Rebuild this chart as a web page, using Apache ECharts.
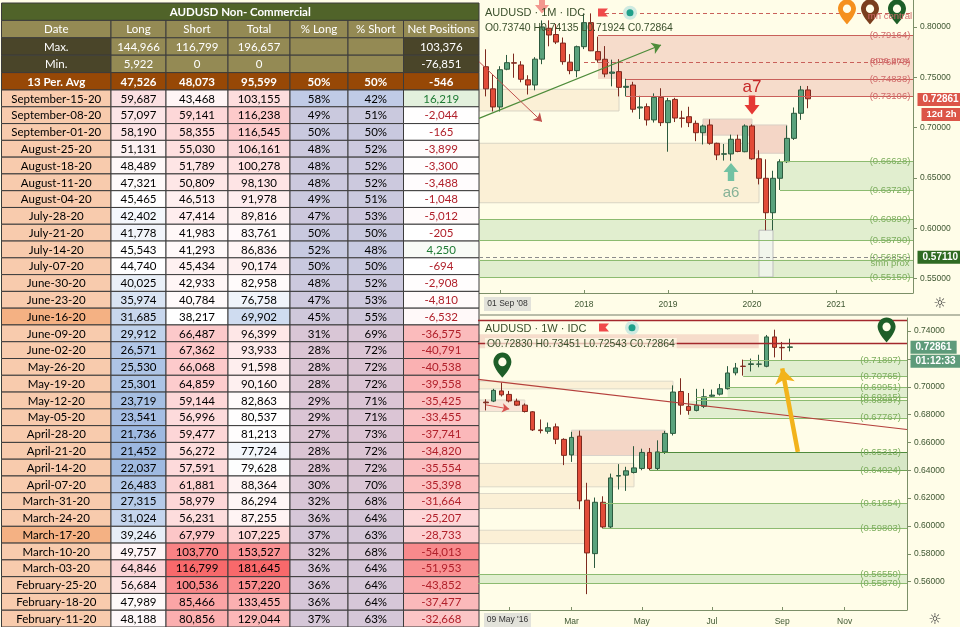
<!DOCTYPE html>
<html>
<head>
<meta charset="utf-8">
<title>AUDUSD Non-Commercial</title>
<script src="https://cdn.jsdelivr.net/npm/echarts@6.0.0/dist/echarts.min.js"></script>
<style>
    html, body { margin: 0; padding: 0; background: #fff; }
    #chart { width: 960px; height: 627px; }
</style>
</head>
<body>
<div id="chart"></div>
<script>
    // COT table (non-commercial positions)
    var headers = ['Date', 'Long', 'Short', 'Total', '% Long', '% Short', 'Net Positions'];
    var statLabels = ['Max.', 'Min.', '13 Per. Avg'];
    var statLong = [144966, 5922, 47526];
    var statShort = [116799, 0, 48073];
    var statTotal = [196657, 0, 95599];
    var statPctLong = [null, null, 50];
    var statPctShort = [null, null, 50];
    var statNet = [103376, -76851, -546];

    var dates = ['September-15-20', 'September-08-20', 'September-01-20', 'August-25-20', 'August-18-20',
        'August-11-20', 'August-04-20', 'July-28-20', 'July-21-20', 'July-14-20', 'July-07-20', 'June-30-20',
        'June-23-20', 'June-16-20', 'June-09-20', 'June-02-20', 'May-26-20', 'May-19-20', 'May-12-20',
        'May-05-20', 'April-28-20', 'April-21-20', 'April-14-20', 'April-07-20', 'March-31-20', 'March-24-20',
        'March-17-20', 'March-10-20', 'March-03-20', 'February-25-20', 'February-18-20', 'February-11-20'];
    var longs = [59687, 57097, 58190, 51131, 48489, 47321, 45465, 42402, 41778, 45543, 44740, 40025, 35974,
        31685, 29912, 26571, 25530, 25301, 23719, 23541, 21736, 21452, 22037, 26483, 27315, 31024, 39246,
        49757, 64846, 56684, 47989, 48188];
    var shorts = [43468, 59141, 58355, 55030, 51789, 50809, 46513, 47414, 41983, 41293, 45434, 42933, 40784,
        38217, 66487, 67362, 66068, 64859, 59144, 56996, 59477, 56272, 57591, 61881, 58979, 56231, 67979,
        103770, 116799, 100536, 85466, 80856];
    var totals = [103155, 116238, 116545, 106161, 100278, 98130, 91978, 89816, 83761, 86836, 90174, 82958,
        76758, 69902, 96399, 93933, 91598, 90160, 82863, 80537, 81213, 77724, 79628, 88364, 86294, 87255,
        107225, 153527, 181645, 157220, 133455, 129044];
    var pctLong = [58, 49, 50, 48, 48, 48, 49, 47, 50, 52, 50, 48, 47, 45, 31, 28, 28, 28, 29, 29, 27, 28,
        28, 30, 32, 36, 37, 32, 36, 36, 36, 37];
    var pctShort = [42, 51, 50, 52, 52, 52, 51, 53, 50, 48, 50, 52, 53, 55, 69, 72, 72, 72, 71, 71, 73, 72,
        72, 70, 68, 64, 63, 68, 64, 64, 64, 63];
    var nets = [16219, -2044, -165, -3899, -3300, -3488, -1048, -5012, -205, 4250, -694, -2908, -4810, -6532,
        -36575, -40791, -40538, -39558, -35425, -33455, -37741, -34820, -35554, -35398, -31664, -25207,
        -28733, -54013, -51953, -43852, -37477, -32668];
    var markedDates = ['June-16-20', 'March-17-20'];

    // AUDUSD monthly candles [open, high, low, close], from Nov 2016
    var monthFirst = [2016, 11];
    var monthOHLC = [
        [0.7605, 0.7778, 0.7310, 0.7385], [0.7385, 0.7525, 0.7160, 0.7205], [0.7205, 0.7610, 0.7160, 0.7575],
        [0.7580, 0.7722, 0.7570, 0.7645], [0.7645, 0.7735, 0.7495, 0.7640], [0.7622, 0.7660, 0.7450, 0.7480],
        [0.7475, 0.7520, 0.7329, 0.7423], [0.7423, 0.7700, 0.7370, 0.7680], [0.7680, 0.8065, 0.7630, 0.8000],
        [0.7987, 0.8066, 0.7808, 0.7920], [0.7925, 0.8030, 0.7830, 0.7850], [0.7840, 0.7895, 0.7625, 0.7655],
        [0.7650, 0.7730, 0.7530, 0.7566], [0.7566, 0.7815, 0.7500, 0.7804], [0.7804, 0.8135, 0.7780, 0.8043],
        [0.8043, 0.8135, 0.7760, 0.7763], [0.7755, 0.7904, 0.7645, 0.7672], [0.7679, 0.7810, 0.7500, 0.7533],
        [0.7540, 0.7675, 0.7410, 0.7552], [0.7556, 0.7680, 0.7310, 0.7400], [0.7400, 0.7485, 0.7310, 0.7410],
        [0.7423, 0.7455, 0.7150, 0.7182], [0.7195, 0.7316, 0.7085, 0.7205], [0.7208, 0.7240, 0.7020, 0.7076],
        [0.7076, 0.7340, 0.7050, 0.7301], [0.7301, 0.7391, 0.7015, 0.7049], [0.7049, 0.7295, 0.6760, 0.7267],
        [0.7280, 0.7296, 0.7055, 0.7095], [0.7095, 0.7167, 0.7000, 0.7092], [0.7108, 0.7207, 0.7005, 0.7049],
        [0.7042, 0.7070, 0.6865, 0.6949], [0.6949, 0.7030, 0.6832, 0.7016], [0.7026, 0.7082, 0.6830, 0.6844],
        [0.6844, 0.6850, 0.6677, 0.6728], [0.6735, 0.6837, 0.6672, 0.6740], [0.6738, 0.6930, 0.6670, 0.6884],
        [0.6884, 0.6929, 0.6755, 0.6762], [0.6760, 0.7032, 0.6755, 0.7016], [0.7016, 0.7032, 0.6680, 0.6690],
        [0.6690, 0.6775, 0.6435, 0.6496], [0.6496, 0.6685, 0.5980, 0.6154], [0.6154, 0.6571, 0.5980, 0.6496],
        [0.6496, 0.6685, 0.6380, 0.6661], [0.6661, 0.7020, 0.6648, 0.6893], [0.6893, 0.7200, 0.6877, 0.7142],
        [0.7142, 0.7414, 0.7077, 0.7374], [0.73740, 0.74135, 0.71924, 0.72864]
    ];

    // AUDUSD weekly candles [open, high, low, close], from week of 16 Dec 2019
    var weekFirst = [2019, 12, 16];
    var weekOHLC = [
        [0.6890, 0.6910, 0.6830, 0.6885], [0.6897, 0.6985, 0.6890, 0.6974], [0.6970, 0.7030, 0.6930, 0.6942],
        [0.6945, 0.6970, 0.6888, 0.6898], [0.6897, 0.6915, 0.6862, 0.6868], [0.6868, 0.6880, 0.6815, 0.6822],
        [0.6820, 0.6825, 0.6682, 0.6690], [0.6690, 0.6765, 0.6665, 0.6685], [0.6680, 0.6743, 0.6663, 0.6706],
        [0.6712, 0.6736, 0.6588, 0.6623], [0.6622, 0.6630, 0.6437, 0.6507], [0.6510, 0.6676, 0.6460, 0.6636],
        [0.6645, 0.6685, 0.6120, 0.6180], [0.6185, 0.6310, 0.5510, 0.5806], [0.5801, 0.6204, 0.5698, 0.6170],
        [0.6170, 0.6213, 0.5982, 0.5993], [0.5993, 0.6376, 0.5985, 0.6345], [0.6358, 0.6444, 0.6262, 0.6362],
        [0.6365, 0.6425, 0.6252, 0.6396], [0.6384, 0.6573, 0.6377, 0.6417], [0.6413, 0.6555, 0.6400, 0.6528],
        [0.6528, 0.6560, 0.6400, 0.6413], [0.6413, 0.6615, 0.6402, 0.6532], [0.6532, 0.6683, 0.6517, 0.6665],
        [0.6665, 0.7010, 0.6650, 0.6962], [0.6966, 0.7061, 0.6799, 0.6868], [0.6859, 0.6955, 0.6799, 0.6830],
        [0.6830, 0.6985, 0.6823, 0.6866], [0.6859, 0.6985, 0.6847, 0.6928], [0.6932, 0.6980, 0.6924, 0.6940],
        [0.6947, 0.7020, 0.6937, 0.6986], [0.6986, 0.7148, 0.6980, 0.7099], [0.7100, 0.7171, 0.7082, 0.7135],
        [0.7148, 0.7195, 0.7080, 0.7146], [0.7160, 0.7203, 0.7110, 0.7165], [0.7162, 0.7230, 0.7140, 0.7163],
        [0.7147, 0.7372, 0.7140, 0.7358], [0.7358, 0.7410, 0.7211, 0.7283], [0.7283, 0.7322, 0.7187, 0.7280],
        [0.72830, 0.73451, 0.72543, 0.72864]
    ];

    var monthTicks = [0.55, 0.60, 0.65, 0.70, 0.75, 0.80];
    var weekTicks = [0.56, 0.58, 0.60, 0.62, 0.64, 0.66, 0.68, 0.70, 0.72, 0.74];
    var monthNames = ['Jan', 'Feb', 'Mar', 'Apr', 'May', 'Jun', 'Jul', 'Aug', 'Sep', 'Oct', 'Nov', 'Dec'];

    // axis categories
    var pad2 = function(n) { return (n < 10 ? '0' : '') + n; };
    var mCats = [];
    for (var i = 0; i < 63; i++) {
        var mm = 9 + i; // Oct 2016 = index 0
        mCats.push((2016 + Math.floor(mm / 12)) + '-' + pad2(mm % 12 + 1));
    }
    var wCats = [];
    for (var i = 0; i < 56; i++) {
        var d = new Date(Date.UTC(2019, 11, 9) + i * 7 * 86400000); // 9 Dec 2019 = index 0
        wCats.push(d.getUTCFullYear() + '-' + pad2(d.getUTCMonth() + 1) + '-' + pad2(d.getUTCDate()));
    }
    var mStart = mCats.indexOf(monthFirst[0] + '-' + pad2(monthFirst[1]));
    var wStart = wCats.indexOf(weekFirst[0] + '-' + pad2(weekFirst[1]) + '-' + pad2(weekFirst[2]));

    var toCandle = function(cats, start, ohlc) {
        return cats.map(function(c, i) {
            var k = ohlc[i - start];
            return k ? [k[0], k[3], k[2], k[1]] : '-';
        });
    };
    var mData = toCandle(mCats, mStart, monthOHLC);
    var wData = toCandle(wCats, wStart, weekOHLC);

    // colours for the table (conditional formatting)
    function rgb(h) { return [parseInt(h.substr(1, 2), 16), parseInt(h.substr(3, 2), 16), parseInt(h.substr(5, 2), 16)]; }
    function mix(a, b, t) {
        t = Math.max(0, Math.min(1, t));
        var x = rgb(a), y = rgb(b);
        return 'rgb(' + [0, 1, 2].map(function(k) { return Math.round(x[k] + (y[k] - x[k]) * t); }).join(',') + ')';
    }
    var W = '#FFFFFF';
    var lMin = Math.min.apply(null, longs), lMax = Math.max.apply(null, longs);
    var sMin = Math.min.apply(null, shorts), sMax = Math.max.apply(null, shorts);
    var tMin = Math.min.apply(null, totals), tMax = Math.max.apply(null, totals);
    var longColor = function(v) {
        return v < 45000 ? mix(W, '#9DB8E0', (45000 - v) / (45000 - lMin)) : mix(W, '#FAD5D8', (v - 45000) / (lMax - 45000));
    };
    var shortColor = function(v) { return mix(W, '#F8696B', (v - sMin) / (sMax - sMin)); };
    var totalColor = function(v) {
        return v < 80000 ? mix(W, '#CFDCF0', (80000 - v) / (80000 - tMin)) : mix(W, '#F8696B', (v - 80000) / (tMax - 80000));
    };
    var pctColor = function(p) {
        return p < 45 ? mix('#CFC8DB', '#DCC5D4', (45 - p) / 18) : mix('#CFC8DB', '#C0CBE6', (p - 45) / 13);
    };
    var netColor = function(v) {
        return v < 0 ? mix(W, '#F7787A', Math.pow(-v / 60000, 1.4)) : mix(W, '#E3F0DD', v / 16219);
    };
    var fmt = function(v) { return v.toLocaleString('en-US'); };

    var colEdges = [1.5, 111, 166, 228, 290, 348, 403.5, 479];

    var headCells = [];
    headCells.push({ c0: 0, c1: 7, row: 0, text: 'AUDUSD Non- Commercial', bg: '#506329', fg: '#FFFFFF', bold: true });
    headers.forEach(function(h, i) {
        headCells.push({ c0: i, c1: i + 1, row: 1, text: h, bg: '#948A54', fg: '#FFFFFF' });
    });
    statLabels.forEach(function(lab, s) {
        var dark = s < 2 ? '#4A4529' : '#974806';
        var mid = s < 2 ? '#948A54' : '#974806';
        var texts = [lab, fmt(statLong[s]), fmt(statShort[s]), fmt(statTotal[s]),
            statPctLong[s] === null ? '' : statPctLong[s] + '%',
            statPctShort[s] === null ? '' : statPctShort[s] + '%', fmt(statNet[s])];
        texts.forEach(function(t, c) {
            headCells.push({ c0: c, c1: c + 1, row: 2 + s, text: t, bg: (c === 0 || c === 6) ? dark : mid, fg: '#FFFFFF', bold: s === 2 });
        });
    });

    var bodyCells = [];
    dates.forEach(function(dt, r) {
        var row = [
            [dt, markedDates.indexOf(dt) >= 0 ? '#F4B183' : '#F8CBAD', '#000'],
            [fmt(longs[r]), longColor(longs[r]), '#000'],
            [fmt(shorts[r]), shortColor(shorts[r]), '#000'],
            [fmt(totals[r]), totalColor(totals[r]), '#000'],
            [pctLong[r] + '%', pctColor(pctLong[r]), '#000'],
            [pctShort[r] + '%', pctColor(pctLong[r]), '#000'],
            [fmt(nets[r]), netColor(nets[r]), nets[r] < 0 ? '#B0202A' : '#1E7B34']
        ];
        row.forEach(function(cell, c) {
            bodyCells.push({ c0: c, c1: c + 1, row: r, text: cell[0], bg: cell[1], fg: cell[2] });
        });
    });

    function cellRenderer(cells) {
        return function(params, api) {
            var cell = cells[params.dataIndex];
            var a = api.coord([colEdges[cell.c0], cell.row]);
            var b = api.coord([colEdges[cell.c1], cell.row]);
            var h = api.size([0, 1])[1];
            return {
                type: 'group',
                children: [{
                    type: 'rect',
                    shape: { x: a[0], y: a[1] - h / 2, width: b[0] - a[0], height: h },
                    style: { fill: cell.bg, stroke: '#3C3C3C', lineWidth: 1 }
                }, {
                    type: 'text',
                    style: {
                        text: cell.text, x: (a[0] + b[0]) / 2, y: a[1] + 0.5, align: 'center', verticalAlign: 'middle',
                        fill: cell.fg, fontSize: 11.5, fontFamily: 'Lato', fontWeight: cell.bold ? 'bold' : 'normal'
                    }
                }]
            };
        };
    }

    // chart overlay helpers
    var RED = '#C9605A', GRN = '#8CBB70', REDTXT = '#D06A6A', GRNTXT = '#7DAE5E';
    var PINK = '#F6DCCB', BEIGE = '#FBF0D6', LGREEN = '#E1EECF';
    function zone(cats, i0, i1, p1, p2, color, border) {
        return [{ xAxis: cats[i0], yAxis: p1, itemStyle: { color: color, borderColor: border || 'transparent', borderWidth: border ? 1 : 0 } },
            { xAxis: cats[i1], yAxis: p2 }];
    }
    function seg(cats, i0, p0, i1, p1, color, width, type, arrow) {
        return [{ coord: [cats[i0], p0], symbol: 'none', lineStyle: { color: color, width: width || 1, type: type || 'solid' } },
            { coord: [cats[i1], p1], symbol: arrow ? 'arrow' : 'none', symbolSize: arrow || 0 }];
    }
    function txt(cats, i, p, text, color, size, dx) {
        return {
            coord: [cats[i], p], symbol: 'rect', symbolSize: 1, itemStyle: { color: 'rgba(0,0,0,0)' },
            label: { show: true, position: 'inside', formatter: text, color: color, fontSize: size || 9.5, fontFamily: 'Liberation Sans', offset: [dx || 0, 0] }
        };
    }
    function shape(cats, i, p, path, size, color, dx) {
        return { coord: [cats[i], p], symbol: path, symbolSize: size, symbolOffset: [dx || 0, 0], itemStyle: { color: color }, label: { show: false } };
    }
    // price tag sitting on the right price axis
    function priceTag(cats, p, text, bg, dist, size) {
        return {
            coord: [cats[cats.length - 1], p], symbol: 'rect', symbolSize: 1, itemStyle: { color: 'rgba(0,0,0,0)' },
            label: { show: true, position: 'right', distance: dist || 4, formatter: text, backgroundColor: bg, color: '#FFFFFF', fontSize: size || 10, fontWeight: 'bold', fontFamily: 'Liberation Sans', padding: [2, 5, 1, 5] }
        };
    }
    var ARROW_DOWN = 'path://M4,0L10,0L10,9L14,9L7,18L0,9L4,9Z';
    var ARROW_UP = 'path://M7,0L14,9L10,9L10,18L4,18L4,9L0,9Z';
    var PIN = 'path://M12,0C5.4,0,0,5.4,0,12C0,20,12,32,12,32C12,32,24,20,24,12C24,5.4,18.6,0,12,0ZM12,6.5A5.5,5.5,0,1,1,12,17.5A5.5,5.5,0,1,1,12,6.5Z';

    var mL = mCats.length - 1, wL = wCats.length - 1;

    var axisText = '#3D5530';
    var axisLineCol = '#7C8F68';

    var option = {
        animation: false,
        backgroundColor: '#FFFDE8',
        grid: [
            { left: 0, top: 3, width: 480, height: 87 },
            { left: 0, top: 90, width: 480, height: 537 },
            { left: 479, top: 0, width: 434, height: 293 },
            { left: 478, top: 318, width: 429, height: 292 }
        ],
        xAxis: [
            { gridIndex: 0, type: 'value', min: 0, max: 480, show: false },
            { gridIndex: 1, type: 'value', min: 0, max: 480, show: false },
            {
                gridIndex: 2, type: 'category', data: mCats, boundaryGap: false,
                axisLine: { lineStyle: { color: axisLineCol } },
                axisTick: { interval: function(i, v) { return v.slice(5) === '01'; }, length: 3, inside: true, lineStyle: { color: axisLineCol } },
                axisLabel: {
                    interval: function(i, v) { return v.slice(5) === '01'; },
                    formatter: function(v) { return v.slice(0, 4); },
                    color: axisText, fontSize: 8.5, fontFamily: 'Liberation Sans', margin: 7
                },
                splitLine: { show: false }
            },
            {
                gridIndex: 3, type: 'category', data: wCats, boundaryGap: false,
                axisLine: { lineStyle: { color: axisLineCol } },
                axisTick: { interval: function(i, v) { return +v.slice(8) <= 7 && (+v.slice(5, 7)) % 2 === 1; }, length: 3, inside: true, lineStyle: { color: axisLineCol } },
                axisLabel: {
                    interval: function(i, v) { return +v.slice(8) <= 7 && (+v.slice(5, 7)) % 2 === 1; },
                    formatter: function(v) { var m = +v.slice(5, 7); return m === 1 ? v.slice(0, 4) : monthNames[m - 1]; },
                    color: axisText, fontSize: 8.5, fontFamily: 'Liberation Sans', margin: 7
                },
                splitLine: { show: false }
            }
        ],
        yAxis: [
            { gridIndex: 0, type: 'category', data: ['0', '1', '2', '3', '4'], inverse: true, show: false },
            { gridIndex: 1, type: 'category', data: dates, inverse: true, show: false },
            {
                gridIndex: 2, type: 'value', position: 'right', min: 0.5356, max: 0.8268,
                axisLine: { show: true, lineStyle: { color: axisLineCol } },
                axisTick: { show: true, customValues: monthTicks, length: 4, lineStyle: { color: axisLineCol } },
                axisLabel: { customValues: monthTicks, formatter: function(v) { return v.toFixed(5); }, color: axisText, fontSize: 8.5, fontFamily: 'Liberation Sans', margin: 7 },
                splitLine: { show: false }
            },
            {
                gridIndex: 3, type: 'value', position: 'right', min: 0.5396, max: 0.7494,
                axisLine: { show: true, lineStyle: { color: axisLineCol } },
                axisTick: { show: true, customValues: weekTicks, length: 4, lineStyle: { color: axisLineCol } },
                axisLabel: { customValues: weekTicks, formatter: function(v) { return v.toFixed(5); }, color: axisText, fontSize: 8.5, fontFamily: 'Liberation Sans', margin: 7 },
                splitLine: { show: false }
            }
        ],
        series: [
            // table
            { type: 'custom', xAxisIndex: 0, yAxisIndex: 0, renderItem: cellRenderer(headCells), data: headCells.map(function(c) { return [colEdges[c.c0], c.row]; }), silent: true },
            { type: 'custom', xAxisIndex: 1, yAxisIndex: 1, renderItem: cellRenderer(bodyCells), data: bodyCells.map(function(c) { return [colEdges[c.c0], c.row]; }), silent: true },

            // monthly: zones
            {
                type: 'line', xAxisIndex: 2, yAxisIndex: 2, data: [], z: 1,
                markArea: {
                    silent: true,
                    data: [
                        zone(mCats, 0, 20, 0.7381, 0.7165, BEIGE, '#D8D4C4'),
                        zone(mCats, 0, 40, 0.6844, 0.6253, BEIGE, '#D8D4C4'),
                        zone(mCats, 17, mL, 0.79164, 0.74838, PINK),
                        zone(mCats, 21, mL, 0.74838, 0.73106, PINK),
                        zone(mCats, 32, 39, 0.7085, 0.6925, '#F4D6C6', '#D9CFC4'),
                        zone(mCats, 39, 44, 0.7026, 0.6745, '#F4D6C6', '#D9CFC4'),
                        zone(mCats, 43, mL, 0.66628, 0.63729, LGREEN),
                        zone(mCats, 0, mL, 0.60890, 0.58790, LGREEN),
                        zone(mCats, 0, mL, 0.56856, 0.55150, LGREEN),
                        zone(mCats, 40, 42, 0.5980, 0.5515, 'rgba(240,244,236,0.85)', '#BDBDBD')
                    ]
                }
            },
            // monthly: lines
            {
                type: 'line', xAxisIndex: 2, yAxisIndex: 2, data: [], z: 2,
                markLine: {
                    silent: true, symbol: 'none', label: { show: false },
                    data: [
                        seg(mCats, 18, 0.8136, mL, 0.8136, RED, 1, [4, 3]),
                        seg(mCats, 17, 0.79164, mL, 0.79164, RED, 1),
                        seg(mCats, 15, 0.76478, mL, 0.76478, RED, 1, [4, 3]),
                        seg(mCats, 21, 0.74838, mL, 0.74838, RED, 1),
                        seg(mCats, 21, 0.73106, mL, 0.73106, RED, 1),
                        seg(mCats, 43, 0.66628, mL, 0.66628, GRN, 1),
                        seg(mCats, 43, 0.63729, mL, 0.63729, GRN, 1),
                        seg(mCats, 0, 0.60890, mL, 0.60890, GRN, 1),
                        seg(mCats, 0, 0.58790, mL, 0.58790, GRN, 1),
                        seg(mCats, 0, 0.56856, mL, 0.56856, GRN, 1),
                        seg(mCats, 0, 0.55150, mL, 0.55150, GRN, 1),
                        seg(mCats, 0, 0.57110, mL, 0.57110, '#8C8C8C', 1, [4, 3]),
                        seg(mCats, 10, 0.8296, 54, 0.6877, '#C0504D', 1.2, 'solid', 9),
                        seg(mCats, 0, 0.7092, 26, 0.7821, '#4E8C3A', 1.2, 'solid', 9),
                        seg(mCats, 0, 0.7655, 9, 0.7059, '#C0504D', 1, 'solid', 8)
                    ]
                }
            },
            // monthly candles and annotations
            {
                type: 'candlestick', xAxisIndex: 2, yAxisIndex: 2, data: mData, barWidth: 5, z: 3,
                itemStyle: { color: '#5AA27C', color0: '#E24C39', borderColor: '#2C5A3E', borderColor0: '#7D2A1F', borderColorDoji: '#222', borderWidth: 1 },
                markPoint: {
                    silent: true,
                    data: [
                        txt(mCats, 59, 0.8110, 'mn central', REDTXT, 9.5, -2),
                        txt(mCats, 59, 0.79164, '(0.79164)', REDTXT, 9.5, -2),
                        txt(mCats, 59, 0.7672, 'ema prox', REDTXT, 9.5, -2),
                        txt(mCats, 59, 0.76478, '(0.76478)', REDTXT, 9.5, -2),
                        txt(mCats, 59, 0.74838, '(0.74838)', REDTXT, 9.5, -2),
                        txt(mCats, 59, 0.73106, '(0.73106)', REDTXT, 9.5, -2),
                        txt(mCats, 59, 0.66628, '(0.66628)', GRNTXT, 9.5, -2),
                        txt(mCats, 59, 0.63729, '(0.63729)', GRNTXT, 9.5, -2),
                        txt(mCats, 59, 0.60890, '(0.60890)', GRNTXT, 9.5, -2),
                        txt(mCats, 59, 0.58790, '(0.58790)', GRNTXT, 9.5, -2),
                        txt(mCats, 59, 0.57130, '(0.56856)', GRNTXT, 9.5, -2),
                        txt(mCats, 59, 0.56500, 'smn prox', GRNTXT, 9.5, -2),
                        txt(mCats, 59, 0.55150, '(0.55150)', GRNTXT, 9.5, -2),
                        txt(mCats, 39, 0.7399, 'a7', '#C62828', 17),
                        txt(mCats, 36, 0.6350, 'a6', '#86B297', 15),
                        shape(mCats, 39, 0.7225, ARROW_DOWN, [15, 19], '#E53935'),
                        shape(mCats, 36, 0.6559, ARROW_UP, [15, 18], '#72C2A3'),
                        shape(mCats, 9, 0.8219, ARROW_DOWN, [14, 17], '#F3978E'),
                        shape(mCats, 52, 0.8150, PIN, [18, 25], '#F5901E', 4),
                        shape(mCats, 56, 0.8150, PIN, [18, 25], '#7A3E1E', -1),
                        shape(mCats, 60, 0.8150, PIN, [18, 25], '#1E5E28', -2),
                        priceTag(mCats, 0.72800, '0.72861', '#DC5548', 4),
                        priceTag(mCats, 0.71300, '12d 2h', '#DC5548', 8, 9.5),
                        priceTag(mCats, 0.57110, '0.57110', '#2F6A22', 4)
                    ]
                }
            },

            // weekly: zones
            {
                type: 'line', xAxisIndex: 3, yAxisIndex: 3, data: [], z: 1,
                markArea: {
                    silent: true,
                    data: [
                        zone(wCats, 0, 36, 0.7377, 0.7276, PINK),
                        zone(wCats, 0, 25, 0.7040, 0.6985, BEIGE, '#DDD8C8'),
                        zone(wCats, 0, 6, 0.6905, 0.6822, '#F8E6D8', '#DDD8C8'),
                        zone(wCats, 12, 24, 0.6688, 0.6506, '#F4D6C6', '#D9D3CB'),
                        zone(wCats, 0, 20, 0.6449, 0.6281, BEIGE, '#DDD8C8'),
                        zone(wCats, 0, 13, 0.6233, 0.6125, BEIGE, '#DDD8C8'),
                        zone(wCats, 0, 14, 0.5969, 0.5873, BEIGE, '#DDD8C8'),
                        zone(wCats, 34, wL, 0.71897, 0.70765, LGREEN),
                        zone(wCats, 32, wL, 0.69951, 0.69215, LGREEN),
                        zone(wCats, 27, wL, 0.68997, 0.67767, LGREEN),
                        zone(wCats, 22, wL, 0.65313, 0.64024, '#D7E7C6'),
                        zone(wCats, 16, wL, 0.61654, 0.59803, LGREEN),
                        zone(wCats, 0, wL, 0.56550, 0.55870, LGREEN)
                    ]
                }
            },
            // weekly: lines
            {
                type: 'line', xAxisIndex: 3, yAxisIndex: 3, data: [], z: 2,
                markLine: {
                    silent: true, symbol: 'none', label: { show: false },
                    data: [
                        seg(wCats, 0, 0.7480, wL, 0.7480, '#A3282C', 1.3),
                        seg(wCats, 0, 0.73106, wL, 0.73106, '#A3282C', 1.3),
                        seg(wCats, 34, 0.71897, wL, 0.71897, GRN, 1),
                        seg(wCats, 34, 0.70765, wL, 0.70765, GRN, 1),
                        seg(wCats, 32, 0.69951, wL, 0.69951, GRN, 1),
                        seg(wCats, 28, 0.69215, wL, 0.69215, GRN, 1),
                        seg(wCats, 28, 0.68997, wL, 0.68997, GRN, 1),
                        seg(wCats, 27, 0.67767, wL, 0.67767, GRN, 1),
                        seg(wCats, 23, 0.65313, wL, 0.65313, '#4F8A3C', 1.2),
                        seg(wCats, 22, 0.64024, wL, 0.64024, '#6FA255', 1.2),
                        seg(wCats, 16, 0.61654, wL, 0.61654, GRN, 1),
                        seg(wCats, 16, 0.59803, wL, 0.59803, GRN, 1),
                        seg(wCats, 0, 0.56550, wL, 0.56550, GRN, 1),
                        seg(wCats, 0, 0.55870, wL, 0.55870, GRN, 1),
                        seg(wCats, 0, 0.7053, wL, 0.6693, '#B5403C', 1.1),
                        seg(wCats, 1, 0.6870, 4, 0.6840, '#D9534F', 1, 'solid', 7),
                        seg(wCats, 41, 0.6532, 39, 0.7132, '#F2B31C', 4.5, 'solid', 15)
                    ]
                }
            },
            // weekly candles and annotations
            {
                type: 'candlestick', xAxisIndex: 3, yAxisIndex: 3, data: wData, barWidth: 5, z: 3,
                itemStyle: { color: '#5AA27C', color0: '#E24C39', borderColor: '#2C5A3E', borderColor0: '#7D2A1F', borderColorDoji: '#222', borderWidth: 1 },
                markPoint: {
                    silent: true,
                    data: [
                        txt(wCats, 52, 0.71897, '(0.71897)', GRNTXT, 9.5, -3),
                        txt(wCats, 52, 0.70765, '(0.70765)', GRNTXT, 9.5, -3),
                        txt(wCats, 52, 0.69951, '(0.69951)', GRNTXT, 9.5, -3),
                        txt(wCats, 52, 0.69215, '(0.69215)', GRNTXT, 9.5, -3),
                        txt(wCats, 52, 0.68997, '(0.68997)', GRNTXT, 9.5, -3),
                        txt(wCats, 52, 0.67767, '(0.67767)', GRNTXT, 9.5, -3),
                        txt(wCats, 52, 0.65313, '(0.65313)', GRNTXT, 9.5, -3),
                        txt(wCats, 52, 0.64024, '(0.64024)', GRNTXT, 9.5, -3),
                        txt(wCats, 52, 0.61654, '(0.61654)', GRNTXT, 9.5, -3),
                        txt(wCats, 52, 0.59803, '(0.59803)', GRNTXT, 9.5, -3),
                        txt(wCats, 52, 0.56550, '(0.56550)', GRNTXT, 9.5, -3),
                        txt(wCats, 52, 0.55870, '(0.55870)', GRNTXT, 9.5, -3),
                        shape(wCats, 52, 0.7408, PIN, [18, 25], '#1E5E28', 3),
                        shape(wCats, 3, 0.7156, PIN, [18, 25], '#1E5E28', 1),
                        priceTag(wCats, 0.7283, '0.72861', '#5E9B7A', 3),
                        priceTag(wCats, 0.7184, '01:12:33', '#5E9B7A', 3)
                    ]
                }
            }
        ],
        graphic: [
            { type: 'line', z: 100, shape: { x1: 480, y1: 315, x2: 960, y2: 315 }, style: { stroke: '#B9BCA8', lineWidth: 2 }, silent: true },
            { type: 'text', z: 100, x: 485, y: 12.5, style: { text: 'AUDUSD · 1M · IDC', fill: '#3A4F2B', fontSize: 11, fontFamily: 'Liberation Sans', verticalAlign: 'middle' } },
            { type: 'text', z: 100, x: 485, y: 28, style: { text: 'O0.73740 H0.74135 L0.71924 C0.72864', fill: '#3A4F2B', fontSize: 10.4, fontFamily: 'Liberation Sans', verticalAlign: 'middle' } },
            { type: 'text', z: 100, x: 485, y: 329, style: { text: 'AUDUSD · 1W · IDC', fill: '#3A4F2B', fontSize: 11, fontFamily: 'Liberation Sans', verticalAlign: 'middle' } },
            { type: 'text', z: 100, x: 485, y: 344, style: { text: 'O0.72830 H0.73451 L0.72543 C0.72864', fill: '#3A4F2B', fontSize: 10.4, fontFamily: 'Liberation Sans', verticalAlign: 'middle', backgroundColor: 'rgba(255,253,232,0.7)', padding: [1, 2] } },
            { type: 'polygon', z: 100, shape: { points: [[598, 8.5], [608, 8.5], [604.5, 12.5], [608, 16.5], [598, 16.5]] }, style: { fill: '#F04A4A' } },
            { type: 'circle', z: 100, shape: { cx: 630, cy: 12.7, r: 7 }, style: { fill: '#CFEAE1' } },
            { type: 'circle', z: 101, shape: { cx: 630, cy: 12.7, r: 3.5 }, style: { fill: '#1FA08A' } },
            { type: 'polygon', z: 100, shape: { points: [[599, 323.5], [609, 323.5], [605.5, 327.5], [609, 331.5], [599, 331.5]] }, style: { fill: '#F04A4A' } },
            { type: 'circle', z: 100, shape: { cx: 632, cy: 327.7, r: 7 }, style: { fill: '#CFEAE1' } },
            { type: 'circle', z: 101, shape: { cx: 632, cy: 327.7, r: 3.5 }, style: { fill: '#1FA08A' } },
            { type: 'rect', z: 100, shape: { x: 484, y: 297, width: 47, height: 14 }, style: { fill: '#E2E2DA' } },
            { type: 'text', z: 101, x: 507.5, y: 304, style: { text: "01 Sep '08", fill: '#333', fontSize: 8.5, fontFamily: 'Liberation Sans', align: 'center', verticalAlign: 'middle' } },
            { type: 'rect', z: 100, shape: { x: 484, y: 613, width: 47, height: 14 }, style: { fill: '#E2E2DA' } },
            { type: 'text', z: 101, x: 507.5, y: 620, style: { text: "09 May '16", fill: '#333', fontSize: 8.5, fontFamily: 'Liberation Sans', align: 'center', verticalAlign: 'middle' } },
            { type: 'text', z: 100, x: 940, y: 304, style: { text: '☼', fill: '#333', fontSize: 15, fontFamily: 'DejaVu Sans', align: 'center', verticalAlign: 'middle' } },
            { type: 'text', z: 100, x: 935, y: 620, style: { text: '☼', fill: '#333', fontSize: 15, fontFamily: 'DejaVu Sans', align: 'center', verticalAlign: 'middle' } }
        ]
    };

    var myChart = echarts.init(document.getElementById('chart'));
    myChart.setOption(option);
    window.onresize = function() {
        myChart.resize();
    };
</script>
</body>
</html>
